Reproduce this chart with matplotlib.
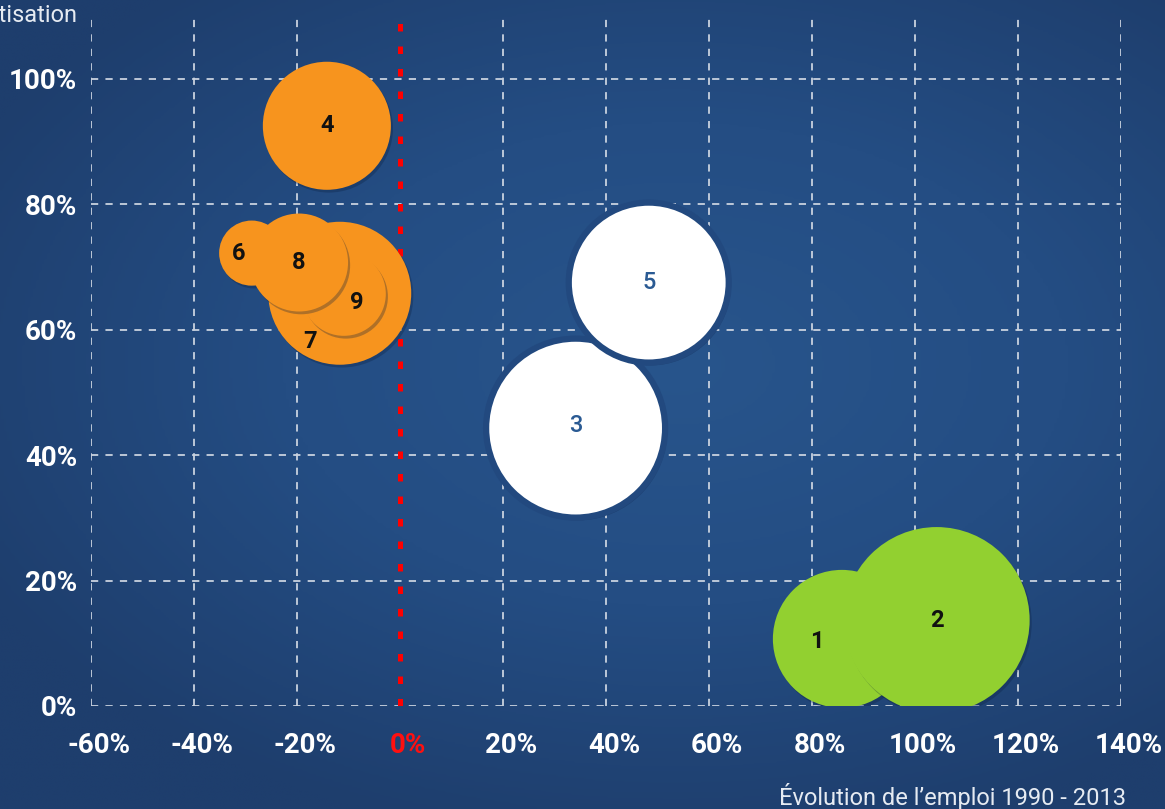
import numpy as np
import matplotlib
matplotlib.use("Agg")
import matplotlib.pyplot as plt
from matplotlib.colors import LinearSegmentedColormap
import matplotlib.patheffects as pe
import matplotlib.transforms as mtransforms

# ---- data ----
ids = ["1", "2", "3", "4", "5", "6", "7", "8", "9"]
emploi = [85.8, 104.2, 34.1, -14.2, 48.3, -28.8, -11.7, -19.6, -10.9]      # x, %
automat = [10.7, 13.7, 44.3, 92.5, 67.5, 72.2, 65.8, 70.7, 65.7]          # y, %
effectif = [47.6, 86.5, 80.1, 41.0, 64.0, 10.6, 51.1, 24.0, 17.6]         # bubble size
groupe = ["vert", "vert", "blanc", "orange", "blanc", "orange", "orange", "orange", "orange"]
x_ticks = [-60, -40, -20, 0, 20, 40, 60, 80, 100, 120, 140]
y_ticks = [0, 20, 40, 60, 80, 100]
x_title = "Évolution de l\u2019emploi 1990 - 2013"
y_title = "Taux d\u2019automatisation"

# ---- styles ----
draw_order = ["1", "2", "3", "5", "4", "6", "7", "9", "8"]
label_offsets = {"6": (-13, 0), "7": (-30, -48), "9": (13, -9), "1": (-25, -3), "3": (0, 3)}
fill = {"vert": "#92D030", "blanc": "#FFFFFF", "orange": "#F7941E"}
txtcol = {"vert": "#111111", "blanc": "#2A5A93", "orange": "#111111"}
plt.rcParams['font.family'] = ['Roboto', 'DejaVu Sans']

W, H = 1165, 809
fig = plt.figure(figsize=(W / 100, H / 100), dpi=100)

# background gradient
bg = fig.add_axes([0, 0, 1, 1], zorder=-10)
yy, xx = np.mgrid[0:1:300j, 0:1:420j]
d = np.sqrt(((xx - 0.58) / 0.9) ** 2 + ((yy - 0.45) / 0.8) ** 2)
cmap = LinearSegmentedColormap.from_list("bg", ["#28558C", "#244D83", "#1E3E6D"])
bg.imshow(d, cmap=cmap, aspect="auto", extent=[0, 1, 0, 1], vmin=0, vmax=0.75)
bg.set_axis_off()

ax = fig.add_axes([91 / W, 1 - 706 / H, 1030 / W, 690 / H])
ax.set_facecolor("none")
ax.set_xlim(-60, 140)
ax.set_ylim(0, 110)
for s in ax.spines.values():
    s.set_visible(False)

grid_kw = dict(color="#C9D2DF", lw=1.3, dashes=(4, 4), zorder=1)
for yv in y_ticks:
    ax.plot([x_ticks[0], x_ticks[-1]], [yv, yv], **grid_kw)
for xv in x_ticks:
    if xv != 0:
        ax.plot([xv, xv], [0, 110], **grid_kw)
ax.plot([0, 0], [0, 110], color="#FF0000", lw=3.6, dashes=(1.5, 3), zorder=2)

ax.set_xticks(x_ticks)
ax.set_xticklabels([f"{v}%" for v in x_ticks])
ax.set_yticks(y_ticks)
ax.set_yticklabels([f"{v}%" for v in y_ticks])
ax.tick_params(length=0, labelcolor="white", labelsize=20)
ax.tick_params(axis="x", pad=19)
ax.tick_params(axis="y", pad=10)
shift = mtransforms.ScaledTranslation(0.08, 0, fig.dpi_scale_trans)
for lab in ax.get_xticklabels() + ax.get_yticklabels():
    lab.set_fontweight("bold")
for lab, v in zip(ax.get_xticklabels(), x_ticks):
    lab.set_transform(lab.get_transform() + shift)
    if v == 0:
        lab.set_color("#FF1010")

scale = 207.36
shadow = [pe.SimplePatchShadow(offset=(1.5, -2), shadow_rgbFace="#0b1f3f", alpha=0.3), pe.Normal()]
for z, k in enumerate(draw_order):
    i = ids.index(k)
    g = groupe[i]
    if g == "blanc":
        sc = ax.scatter(emploi[i], automat[i], s=effectif[i] * scale, c=fill[g],
                        edgecolors="#22497F", linewidths=4.5, zorder=5 + z)
    else:
        sc = ax.scatter(emploi[i], automat[i], s=effectif[i] * scale, c=fill[g],
                        edgecolors="none", zorder=5 + z)
    sc.set_path_effects(shadow)
    dx, dy = label_offsets.get(k, (0, 0))
    ax.annotate(k, (emploi[i], automat[i]), xytext=(dx * 0.72, dy * 0.72),
                textcoords="offset points", ha="center", va="center",
                fontsize=17, fontweight="bold" if g != "blanc" else "medium",
                color=txtcol[g], zorder=30)

fig.text(1126 / W, 1 - 797 / H, x_title, ha="right", va="center", color="#E6EBF2", fontsize=17)
fig.text(77 / W, 1 - 15 / H, y_title, ha="right", va="center", color="#E6EBF2", fontsize=17)

fig.savefig("out.png", dpi=100)
